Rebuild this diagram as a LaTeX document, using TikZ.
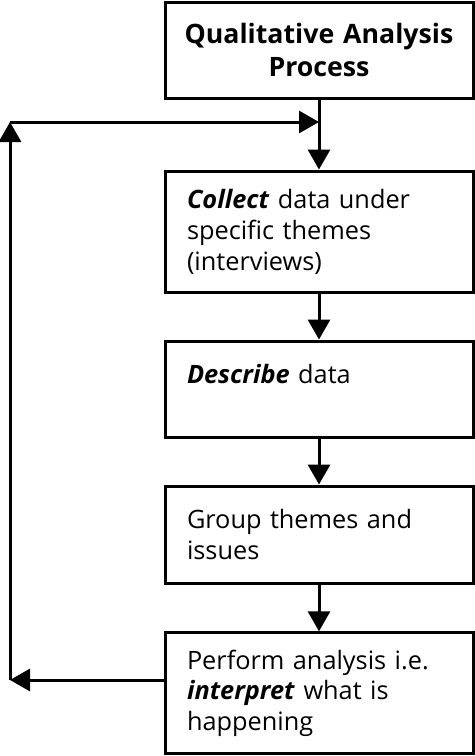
\documentclass[tikz,border=0pt]{standalone}
\usepackage{fontspec}
\setmainfont{Open Sans}
\usetikzlibrary{positioning,arrows.meta,calc}

\begin{document}
\begin{tikzpicture}[line width=0.075cm, >={Triangle[width=0.55cm, length=0.5cm]},
    procbox/.style={draw, minimum width=7.7cm, text width=6.6cm, inner xsep=0.55cm, align=left, font=\fontsize{18}{22}\selectfont}]
    \useasboundingbox (0,0) rectangle (11.85,-18.9);

    \node [procbox, align=center, text width=7.3cm, inner xsep=0.2cm, minimum height=2.4cm, font=\fontsize{19}{23}\selectfont\bfseries] (title) at (7.975,-1.25) {Qualitative Analysis\\Process};

    \node [procbox, below=1.75cm of title, minimum height=3.025cm] (collect) {\textbf{\textit{Collect}} data under\\specific themes\\(interviews)};

    \node [procbox, below=1.15cm of collect, minimum height=2.4cm] (describe) {\textbf{\textit{Describe}} data\\\mbox{}};

    \node [procbox, below=1.15cm of describe, minimum height=2.425cm] (group) {Group themes and\\issues};

    \node [procbox, below=1.17cm of group, minimum height=3.025cm] (perform) {Perform analysis i.e.\\\textbf{\textit{interpret}} what is\\happening};

    \coordinate (cornerbot) at (0.25,-17.0);
    \coordinate (cornertop) at (0.25,-3.05);
    \coordinate (join) at (title.south |- cornertop);

    \draw[->] (title) -- (collect);
    \draw[->] (collect) -- (describe);
    \draw[->] (describe) -- (group);
    \draw[->] (group) -- (perform);

    % feedback loop
    \draw[->] (perform.west |- cornerbot) -- (cornerbot);
    \draw[->] (cornerbot) -- (cornertop);
    \draw[->] (cornertop) -- (join);

\end{tikzpicture}
\end{document}
